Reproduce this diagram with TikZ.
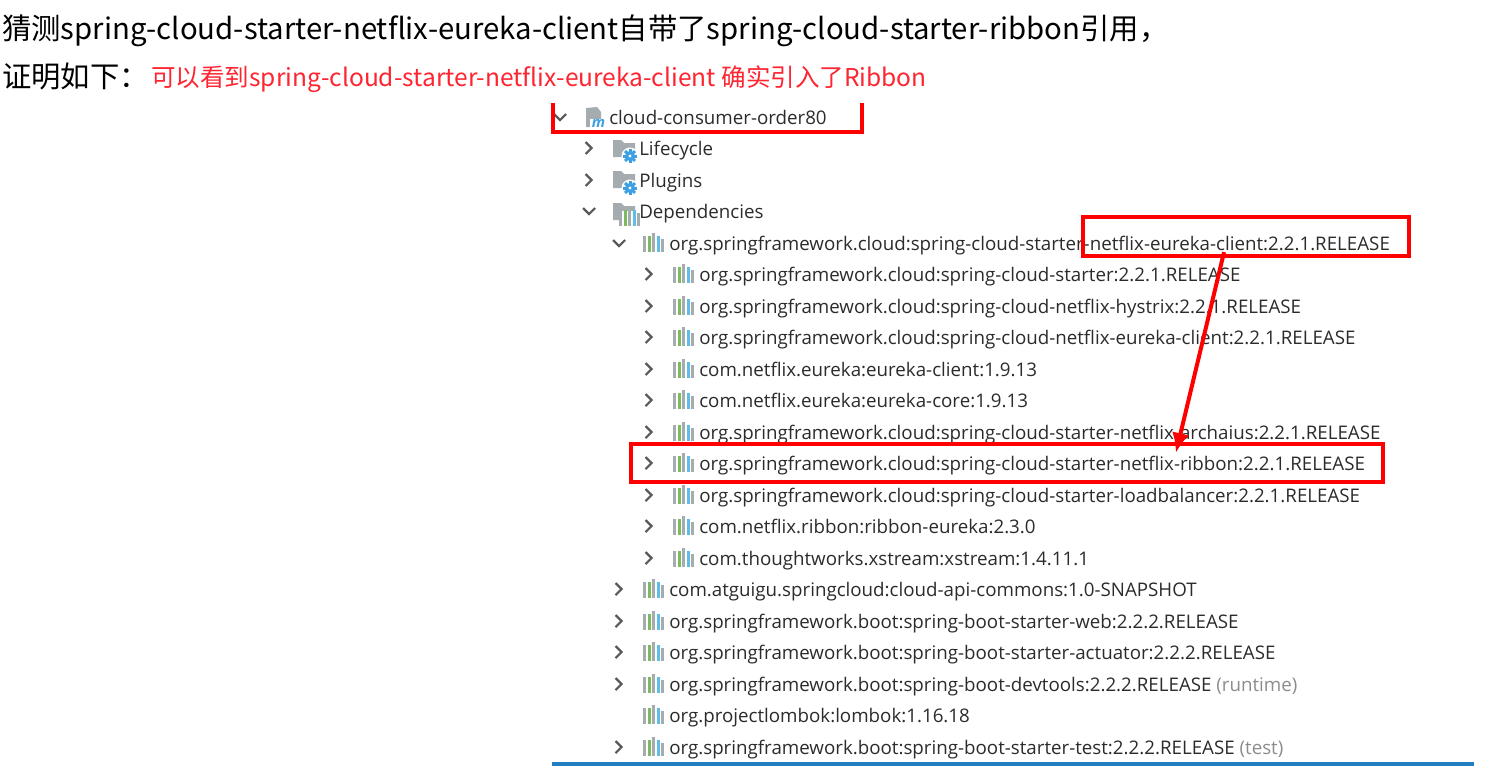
\documentclass[tikz,border=0pt]{standalone}
\usepackage{fontspec}
\usetikzlibrary{arrows.meta}
\setmainfont{Open Sans}
\newfontfamily\cjkfont{Noto Sans CJK SC}
\begin{document}
\begin{tikzpicture}[x=0.75pt,y=-0.75pt]
	\definecolor{hongse}{RGB}{254,0,0}
	\definecolor{hongzi}{RGB}{254,36,48}
	\definecolor{zise}{RGB}{43,43,43}
	\definecolor{huise}{RGB}{165,172,176}
	\definecolor{lvse}{RGB}{125,185,95}
	\definecolor{lanse}{RGB}{95,190,230}
	\definecolor{xanhgear}{RGB}{60,160,225}
	\definecolor{xianlan}{RGB}{35,125,195}
	\tikzset{
		treetext/.style={anchor=base west,inner sep=0pt,text=zise,font=\fontsize{14.05pt}{16pt}\selectfont},
		toptext/.style={anchor=base west,inner sep=0pt,font=\cjkfont\fontsize{22pt}{26pt}\selectfont},
		redbox/.style={draw=hongse,line width=3pt,inner sep=0pt},
		jarbars/.pic={
			\fill[huise] (-10,-7) rectangle (-7,9);
			\fill[lvse] (-5,-7) rectangle (-2,9);
			\fill[huise] (-1,-10) rectangle (2,9);
			\fill[lanse] (4,-7) rectangle (7,9);
			\fill[huise] (8,-4) rectangle (11,9);
		},
		folder/.pic={
			\fill[huise] (-11,-9) -- (-3,-9) -- (0,-6) -- (11,-6) -- (11,8) -- (-11,8) -- cycle;
		},
		gear/.pic={
			\fill[white] (0,0) circle (8.5);
			\foreach \goc in {0,45,135,90}{
				\fill[xanhgear,rotate=\goc] (-1.5,-7) rectangle (1.5,7);
			}
			\fill[xanhgear] (0,0) circle (5);
			\fill[white] (0,0) circle (1.6);
		},
		chevright/.pic={
			\draw[black!65,line width=1.6pt] (-3.5,-6) -- (2.5,0) -- (-3.5,6);
		},
		chevdown/.pic={
			\draw[black!65,line width=1.6pt] (-6,-3) -- (0,3) -- (6,-3);
		}
	}
	\useasboundingbox (0,0) rectangle (1494,779);

	%Dong tren
	\node[toptext] (dong1) at (2,39) {猜测spring-cloud-starter-netflix-eureka-client自带了spring-cloud-starter-ribbon引用，};
	\node[toptext] (dong2) at (2,87) {证明如下：};
	\node[toptext,text=hongzi,font=\cjkfont\fontsize{18.4pt}{22pt}\selectfont] (dong3) at (151,86) {可以看到spring-cloud-starter-netflix-eureka-client 确实引入了Ribbon};

	%Cay
	\node[treetext] (goc) at (609,124) {cloud-consumer-order80};
	\node[treetext] (lifecycle) at (639,155) {Lifecycle};
	\node[treetext] (plugins) at (639,187) {Plugins};
	\node[treetext] (dependencies) at (639,218) {Dependencies};
	\foreach \x/\y/\ten in {
		669/250/org.springframework.cloud:spring-cloud-starter-netflix-eureka-client:2.2.1.RELEASE,
		699/281/org.springframework.cloud:spring-cloud-starter:2.2.1.RELEASE,
		699/313/org.springframework.cloud:spring-cloud-netflix-hystrix:2.2.1.RELEASE,
		699/344/org.springframework.cloud:spring-cloud-netflix-eureka-client:2.2.1.RELEASE,
		699/376/com.netflix.eureka:eureka-client:1.9.13,
		699/407/com.netflix.eureka:eureka-core:1.9.13,
		699/439/org.springframework.cloud:spring-cloud-starter-netflix-archaius:2.2.1.RELEASE,
		699/470/org.springframework.cloud:spring-cloud-starter-netflix-ribbon:2.2.1.RELEASE,
		699/502/org.springframework.cloud:spring-cloud-starter-loadbalancer:2.2.1.RELEASE,
		699/533/com.netflix.ribbon:ribbon-eureka:2.3.0,
		699/565/com.thoughtworks.xstream:xstream:1.4.11.1,
		669/596/com.atguigu.springcloud:cloud-api-commons:1.0-SNAPSHOT,
		669/628/org.springframework.boot:spring-boot-starter-web:2.2.2.RELEASE,
		669/659/org.springframework.boot:spring-boot-starter-actuator:2.2.2.RELEASE,
		669/691/org.springframework.boot:spring-boot-devtools:2.2.2.RELEASE \textcolor{black!45}{(runtime)},
		669/722/org.projectlombok:lombok:1.16.18,
		669/754/org.springframework.boot:spring-boot-starter-test:2.2.2.RELEASE \textcolor{black!45}{(test)}
	}{
		\pic at (\x-16,\y-7) {jarbars};
		\node[treetext] (hang\y) at (\x,\y) {\ten};
	}
	\foreach \x/\y in {
		589/148, 589/180,
		649/274, 649/306, 649/337, 649/369, 649/400, 649/432, 649/463, 649/495, 649/526, 649/558,
		619/589, 619/621, 619/652, 619/684, 619/747
	}{
		\pic at (\x,\y) {chevright};
	}
	\foreach \x/\y in {560/117, 589/211, 619/243}{
		\pic at (\x,\y) {chevdown};
	}

	%Icon
	\pic at (624,149) {folder};
	\pic at (630,156) {gear};
	\pic at (624,180) {folder};
	\pic at (630,188) {gear};
	\pic at (624,212) {folder};
	\fill[white] (621,211) rectangle (637,224);
	\begin{scope}[shift={(629,217)},scale=0.65]
		\pic {jarbars};
	\end{scope}
	\fill[huise] (586,108) -- (597,107) -- (601,112) -- (601,127) -- (586,127) -- cycle;
	\fill[white] (590,119) rectangle (607,130);
	\node[inner sep=0pt,text=xanhgear,font=\itshape\bfseries\fontsize{11pt}{11pt}\selectfont] (mavenm) at (598.5,123.5) {m};

	%Khung do
	\node[redbox,minimum width=244.5pt,minimum height=29pt] (khungeureka) at (1245.5,236.75) {};
	\node[redbox,minimum width=564pt,minimum height=28.5pt] (khungribbon) at (1006.5,462.5) {};
	\draw[hongse,line width=3pt] (553,103) -- (553,132) -- (862,132) -- (862,103);
	\draw[hongse,line width=3pt,-{Latex[length=15pt,width=13pt]}] ([xshift=-16.1pt,yshift=4.5pt]khungeureka.south) -- ([xshift=127pt,yshift=-8.6pt]khungribbon.north);

	\draw[xianlan,line width=3pt] (552,764) -- (1474,764);
\end{tikzpicture}
\end{document}
